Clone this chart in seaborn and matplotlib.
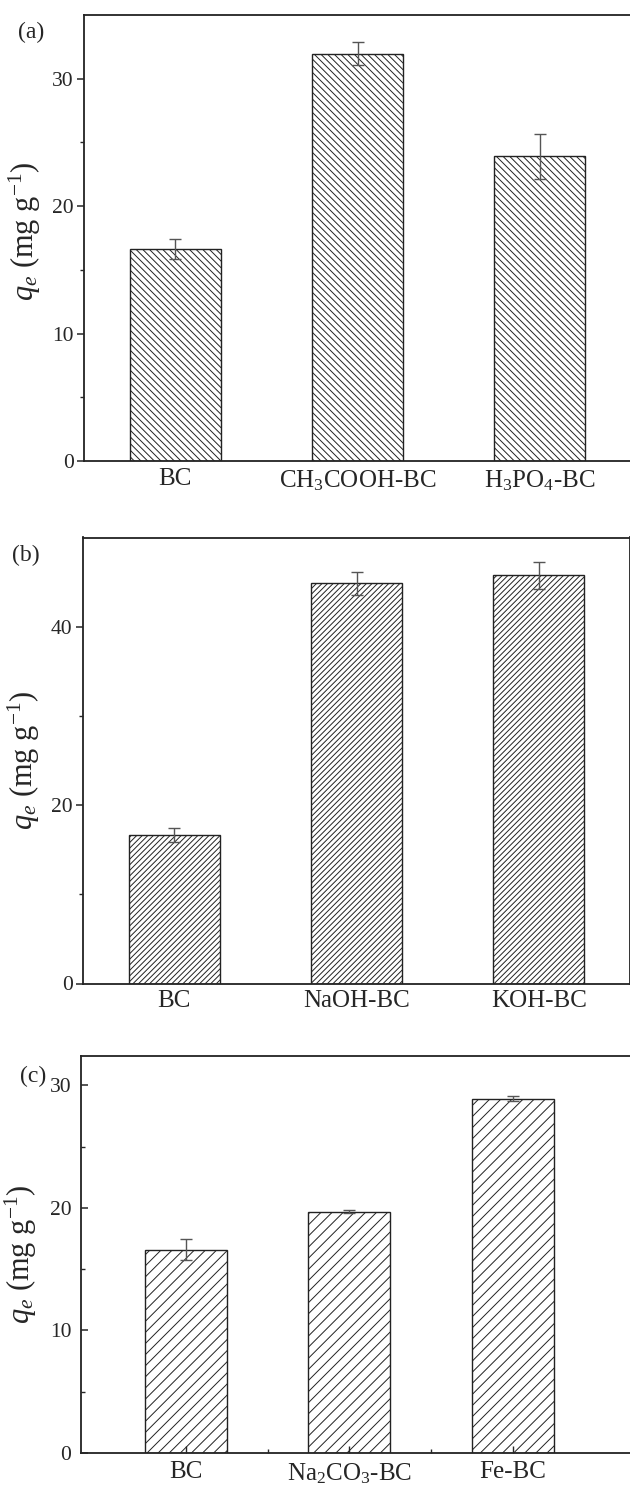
import numpy as np
import pandas as pd
import matplotlib
matplotlib.use("Agg")
import matplotlib.pyplot as plt
import seaborn as sns

# ---- data ----
cats_a = ["BC", "CH$_3$COOH-BC", "H$_3$PO$_4$-BC"]
vals_a = [16.65, 31.95, 23.9]
errs_a = [0.8, 0.9, 1.8]

cats_b = ["BC", "NaOH-BC", "KOH-BC"]
vals_b = [16.65, 44.85, 45.75]
errs_b = [0.8, 1.25, 1.55]

cats_c = ["BC", "Na$_2$CO$_3$-BC", "Fe-BC"]
vals_c = [16.6, 19.7, 28.9]
errs_c = [0.85, 0.15, 0.2]

panel_labels = ["(a)", "(b)", "(c)"]
ylabel = "$q_e$ (mg g$^{\\mathregular{-1}}$)"

sns.set_style("ticks")
plt.rcParams["font.family"] = ["Liberation Serif", "DejaVu Serif"]
plt.rcParams["mathtext.fontset"] = "custom"
plt.rcParams["mathtext.rm"] = "Liberation Serif"
plt.rcParams["mathtext.it"] = "Liberation Serif:italic"
plt.rcParams["mathtext.bf"] = "Liberation Serif:bold"
plt.rcParams["hatch.linewidth"] = 0.7
plt.rcParams["hatch.color"] = "#222222"

W, H = 630, 1486
fig = plt.figure(figsize=(W / 100, H / 100), dpi=100)

def px_axes(left, top, right, bottom):
    return fig.add_axes([left / W, 1 - bottom / H, (right - left) / W, (bottom - top) / H])

ax_a = px_axes(84, 15, 631, 461)
ax_b = px_axes(83, 537.5, 630, 983.5)
ax_c = px_axes(81, 1056, 644, 1453)

specs = [
    (ax_a, cats_a, vals_a, errs_a, "\\" * 5, (-0.5, 2.5), (0, 35), [0, 10, 20, 30], "out", 0.515),
    (ax_b, cats_b, vals_b, errs_b, "/" * 6, (-0.5, 2.5), (0, 50), [0, 20, 40], "out", 0.5),
    (ax_c, cats_c, vals_c, errs_c, "/" * 3, (-0.64, 2.8), (0, 32.4), [0, 10, 20, 30], "in", 0.5),
]

for ax, cats, vals, errs, hatch, xl, yl, yt, tdir, ly in specs:
    df = pd.DataFrame({"cat": cats, "val": vals})
    sns.barplot(data=df, x="cat", y="val", ax=ax, color="white", edgecolor="#222222",
                linewidth=1.0, width=0.5, errorbar=None)
    for p in ax.patches:
        p.set_hatch(hatch)
        p.set_facecolor("white")
    ax.errorbar(np.arange(len(cats)), vals, yerr=errs, fmt="none", ecolor="#555555",
                elinewidth=1.0, capsize=4.5, capthick=1.0)
    ax.set_axisbelow(False)
    ax.set_xlim(*xl)
    ax.set_ylim(*yl)
    ax.set_yticks(yt)
    step = yt[1] - yt[0]
    ax.set_yticks(np.arange(step / 2, yl[1], step), minor=True)
    ax.set_xlabel("")
    ax.set_ylabel(ylabel, fontsize=22)
    ax.yaxis.set_label_coords(-0.075, ly)
    for s in ax.spines.values():
        s.set_linewidth(1.3)
        s.set_color("#222222")
    ax.tick_params(axis="y", which="major", direction=tdir, length=5, width=1.1,
                   labelsize=15.5, pad=2.5 if tdir == "out" else 7)
    ax.tick_params(axis="y", which="minor", direction=tdir, length=3, width=1.0)
    ax.tick_params(axis="x", labelsize=18)
    ax.tick_params(axis="y", right=False)

ax_a.tick_params(axis="x", which="both", length=0, pad=5)
ax_b.tick_params(axis="x", which="both", length=0, pad=5)
ax_c.tick_params(axis="x", which="major", direction="in", length=5, width=1.0, pad=6)
ax_c.set_xticks([0.5, 1.5], minor=True)
ax_c.tick_params(axis="x", which="minor", direction="in", length=3, width=1.0)

fig.text(18 / W, 1 - 32 / H, panel_labels[0], fontsize=17, va="center", ha="left")
fig.text(12 / W, 1 - 555 / H, panel_labels[1], fontsize=17, va="center", ha="left")
fig.text(20 / W, 1 - 1076 / H, panel_labels[2], fontsize=17, va="center", ha="left")

fig.savefig("out.png", dpi=100)
